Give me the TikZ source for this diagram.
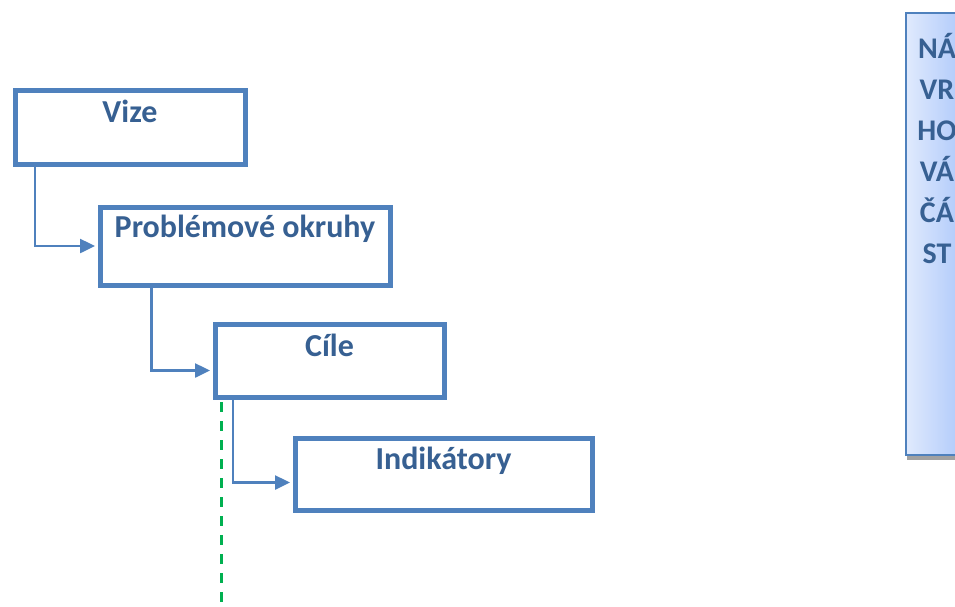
\documentclass[tikz,border=0pt]{standalone}
\usepackage{fontspec}
\setmainfont{Carlito}
\usetikzlibrary{arrows.meta,positioning,shadows}
\definecolor{boxblue}{RGB}{79,129,189}
\definecolor{txtblue}{RGB}{55,96,146}
\definecolor{dashgreen}{RGB}{0,176,80}
\definecolor{sideleft}{RGB}{224,234,253}
\definecolor{sideright}{RGB}{170,198,250}

\begin{document}
\begin{tikzpicture}[x=1pt,y=-1pt,>={Triangle[length=15pt,width=14pt]}]
  \tikzstyle{block}=[draw=boxblue,line width=5pt,fill=white,inner sep=0pt,anchor=north west,
    text height=32pt,text depth=42pt,font=\fontsize{32}{38}\selectfont\bfseries,text=txtblue]
  \tikzstyle{link}=[->,draw=boxblue,line width=2.5pt,shorten >=2.5pt]
  \tikzstyle{sidebox}=[draw=boxblue,line width=2pt,left color=sideleft,right color=sideright,
    minimum width=62pt,minimum height=442pt,inner sep=0pt,anchor=north west,
    drop shadow={shadow xshift=1pt,shadow yshift=-5pt,fill=black!37,opacity=1}]
  \tikzstyle{sidetext}=[inner sep=0pt,align=center,anchor=north,text=txtblue,
    font=\fontsize{30}{41}\selectfont\bfseries]
  \path[use as bounding box,clip] (0,0) rectangle (955,606);
  % staggered boxes
  \node[block,minimum width=230pt] (vize) at (12.5,87.5) {Vize};
  \node[block,minimum width=290pt,text height=30pt,text depth=48pt] (prob) at (97.5,204.5) {Problémové okruhy};
  \node[block,minimum width=229pt,text height=32pt,text depth=41pt] (cile) at (212.5,321.5) {Cíle};
  \node[block,minimum width=297pt,text height=31pt,text depth=41pt] (indik) at (292.5,435.5) {Indikátory};
  \draw[link] ([xshift=22.5pt]vize.south west) |- (prob.west);
  \draw[link] ([xshift=54pt]prob.south west) |- ([yshift=-10pt]cile.west);
  \draw[link] ([xshift=20.5pt]cile.south west) |- ([yshift=-8.5pt]indik.west);
  \coordinate (gend) at (221,606);
  \draw[dashgreen,line width=3pt,dash pattern=on 10pt off 9pt,shorten <=2.5pt]
    ([xshift=8.5pt]cile.south west) -- (gend);
  % side panel, cut by the page edge
  \node[sidebox] (navrh) at (905,12) {};
  \node[sidetext] (navrhtxt) at ([yshift=-21pt]navrh.north) {NÁ\\VR\\HO\\VÁ\\ČÁ\\ST};
\end{tikzpicture}
\end{document}
